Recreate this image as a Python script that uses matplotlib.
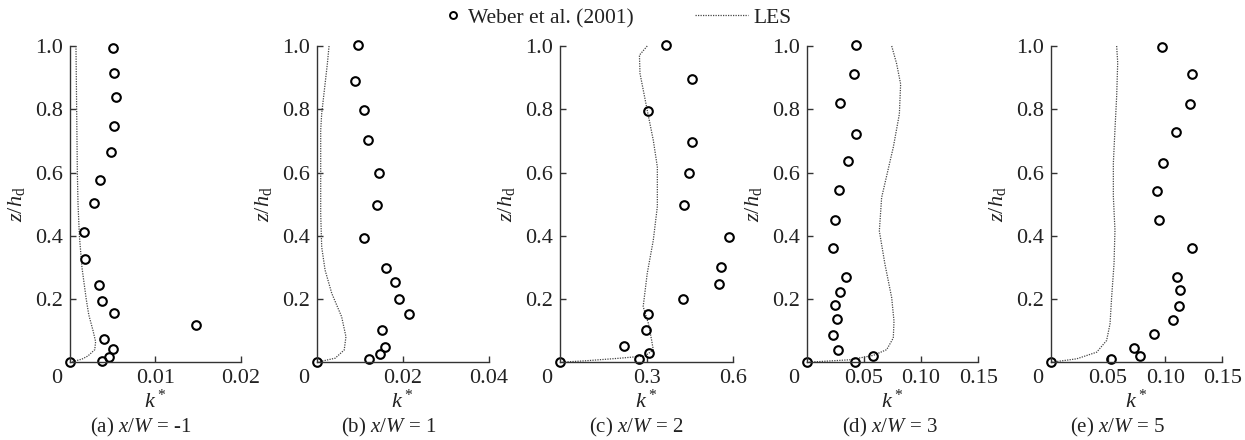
import matplotlib
matplotlib.use("Agg")
import matplotlib.pyplot as plt
from matplotlib.lines import Line2D

plt.rcParams['font.family'] = ['Liberation Serif', 'DejaVu Serif']
plt.rcParams['mathtext.fontset'] = 'custom'
plt.rcParams['mathtext.rm'] = 'Liberation Serif'
plt.rcParams['mathtext.it'] = 'Liberation Serif:italic'

TEXT_COLOR = '#222222'
LINE_COLOR = '#444444'

# (a) x/W = -1
exp_k_a = [0.0050, 0.0052, 0.0054, 0.0051, 0.0048, 0.0035, 0.0028, 0.0016, 0.0018,
           0.0034, 0.0038, 0.0052, 0.0148, 0.0040, 0.0050, 0.0046, 0.0037, 0.0]
exp_z_a = [0.995, 0.916, 0.838, 0.747, 0.664, 0.575, 0.504, 0.413, 0.327,
           0.245, 0.195, 0.155, 0.117, 0.075, 0.042, 0.017, 0.004, 0.0]
les_k_a = [0.0007, 0.00074, 0.00078, 0.00082, 0.00086, 0.00094, 0.0011, 0.0014,
           0.0019, 0.0022, 0.0027, 0.0030, 0.0029, 0.0021, 0.0014, 0.0]
les_z_a = [1.0, 0.9, 0.8, 0.7, 0.6, 0.5, 0.4, 0.3, 0.2, 0.15, 0.1, 0.065, 0.04, 0.02, 0.01, 0.0]

# (b) x/W = 1
exp_k_b = [0.0097, 0.0089, 0.0111, 0.0119, 0.0144, 0.0140, 0.0109, 0.0162,
           0.0182, 0.0191, 0.0214, 0.0151, 0.0159, 0.0147, 0.0122, 0.0]
exp_z_b = [1.004, 0.888, 0.797, 0.702, 0.600, 0.497, 0.394, 0.299,
           0.254, 0.201, 0.153, 0.102, 0.049, 0.025, 0.011, 0.0]
les_k_b = [0.00287, 0.00248, 0.00116, 0.00093, 0.00093, 0.00116, 0.00194, 0.0035,
           0.0058, 0.0068, 0.0064, 0.0043, 0.0]
les_z_b = [1.0, 0.944, 0.786, 0.734, 0.47, 0.365, 0.292, 0.218, 0.144, 0.081, 0.039, 0.013, 0.0]

# (c) x/W = 2
exp_k_c = [0.366, 0.456, 0.305, 0.458, 0.448, 0.428, 0.585, 0.556, 0.549,
           0.427, 0.306, 0.297, 0.222, 0.307, 0.275, 0.0]
exp_z_c = [1.004, 0.896, 0.794, 0.696, 0.600, 0.497, 0.396, 0.301, 0.249,
           0.201, 0.152, 0.101, 0.052, 0.029, 0.012, 0.0]
les_k_c = [0.302, 0.275, 0.277, 0.302, 0.323, 0.337, 0.337, 0.323, 0.302, 0.288,
           0.306, 0.317, 0.323, 0.294, 0.208, 0.092, 0.0]
les_z_c = [1.0, 0.971, 0.913, 0.797, 0.702, 0.618, 0.492, 0.386, 0.281, 0.176,
           0.123, 0.071, 0.039, 0.02, 0.013, 0.005, 0.0]

# (d) x/W = 3
exp_k_d = [0.0431, 0.0417, 0.0291, 0.0431, 0.0358, 0.0285, 0.0250, 0.0233, 0.0344,
           0.0291, 0.0250, 0.0268, 0.0233, 0.0277, 0.0577, 0.0422, 0.0]
exp_z_d = [1.004, 0.912, 0.819, 0.722, 0.635, 0.544, 0.450, 0.360, 0.271,
           0.222, 0.182, 0.137, 0.086, 0.040, 0.020, 0.001, 0.0]
les_k_d = [0.0743, 0.0786, 0.0821, 0.0810, 0.0757, 0.0655, 0.0635, 0.0684, 0.0743,
           0.0763, 0.0757, 0.0699, 0.0583, 0.0379, 0.0]
les_z_d = [1.0, 0.944, 0.88, 0.785, 0.68, 0.521, 0.415, 0.31, 0.204, 0.13, 0.077,
           0.04, 0.022, 0.008, 0.0]

# (e) x/W = 5
exp_k_e = [0.0972, 0.1232, 0.1220, 0.1091, 0.0983, 0.0928, 0.0948, 0.1232, 0.1100,
           0.1129, 0.1118, 0.1065, 0.0902, 0.0730, 0.0779, 0.0525, 0.0]
exp_z_e = [0.998, 0.910, 0.816, 0.727, 0.631, 0.542, 0.451, 0.360, 0.269,
           0.228, 0.179, 0.135, 0.088, 0.044, 0.021, 0.011, 0.0]
les_k_e = [0.0575, 0.0584, 0.0575, 0.0560, 0.0546, 0.0546, 0.0560, 0.0552, 0.0531,
           0.0517, 0.0487, 0.0400, 0.0225, 0.0]
les_z_e = [1.0, 0.947, 0.841, 0.735, 0.63, 0.524, 0.418, 0.312, 0.206, 0.122,
           0.069, 0.032, 0.011, 0.0]

captions = ['(a) $x/W$ = -1', '(b) $x/W$ = 1', '(c) $x/W$ = 2', '(d) $x/W$ = 3', '(e) $x/W$ = 5']
x_limits = [0.02, 0.04, 0.6, 0.15, 0.15]
x_ticks = [[0.01, 0.02], [0.02, 0.04], [0.3, 0.6], [0.05, 0.10, 0.15], [0.05, 0.10, 0.15]]
x_tick_labels = [['0.01', '0.02'], ['0.02', '0.04'], ['0.3', '0.6'],
                 ['0.05', '0.10', '0.15'], ['0.05', '0.10', '0.15']]
y_ticks = [0.2, 0.4, 0.6, 0.8, 1.0]

panels = [
    (exp_k_a, exp_z_a, les_k_a, les_z_a),
    (exp_k_b, exp_z_b, les_k_b, les_z_b),
    (exp_k_c, exp_z_c, les_k_c, les_z_c),
    (exp_k_d, exp_z_d, les_k_d, les_z_d),
    (exp_k_e, exp_z_e, les_k_e, les_z_e),
]

W, H = 1245, 440
axes_left = [70, 316.7, 560, 806.7, 1051]
axes_right = [240.7, 488.7, 733.3, 978.3, 1222.3]
axes_top, axes_bottom = 46, 362.3
caption_x = [141, 389, 636, 890, 1117]

fig = plt.figure(figsize=(W / 100, H / 100), dpi=100)

for i, (ek, ez, lk, lz) in enumerate(panels):
    ax = fig.add_axes([axes_left[i] / W, 1 - axes_bottom / H,
                       (axes_right[i] - axes_left[i]) / W, (axes_bottom - axes_top) / H])
    ax.plot(lk, lz, color=LINE_COLOR, linestyle=(0, (1, 1)), linewidth=0.9, clip_on=False)
    ax.plot(ek, ez, linestyle='none', marker='o', markersize=6.2, markerfacecolor='none',
            markeredgecolor='black', markeredgewidth=1.5, clip_on=False)
    ax.set_xlim(0, x_limits[i])
    ax.set_ylim(0, 1.0)
    ax.set_xticks(x_ticks[i])
    ax.set_xticklabels(x_tick_labels[i])
    ax.set_yticks(y_ticks)
    ax.set_yticklabels(['0.2', '0.4', '0.6', '0.8', '1.0'])
    for side in ['top', 'right']:
        ax.spines[side].set_visible(False)
    for side in ['left', 'bottom']:
        ax.spines[side].set_color('#333333')
        ax.spines[side].set_linewidth(1.0)
    ax.tick_params(direction='in', length=4, width=1.0, color='#333333',
                   labelsize=16, labelcolor=TEXT_COLOR, pad=5)
    ax.annotate('0', xy=(0, 0), xycoords='axes fraction', xytext=(-9.5, -5),
                textcoords='offset points', ha='center', va='top', fontsize=16, color=TEXT_COLOR)
    ax.set_xlabel('$k^*$', fontsize=16, color=TEXT_COLOR, labelpad=1)
    ax.set_ylabel(r'$z/h_{\rm d}$', fontsize=16, color=TEXT_COLOR, labelpad=6)
    fig.text(caption_x[i] / W, 1 - 427 / H, captions[i], ha='center', va='center',
             fontsize=15, color=TEXT_COLOR)

exp_handle = Line2D([], [], linestyle='none', marker='o', markersize=5, markerfacecolor='none',
                    markeredgecolor='black', markeredgewidth=1.4)
les_handle = Line2D([], [], color=LINE_COLOR, linestyle=(0, (1, 1)), linewidth=0.9)
fig.legend([exp_handle], ['Weber et al. (2001)'], loc='center left', bbox_to_anchor=(444.5 / W, 1 - 18 / H),
           frameon=False, fontsize=15.5, handlelength=0.8, handletextpad=0.3,
           borderpad=0, borderaxespad=0, labelcolor=TEXT_COLOR)
fig.legend([les_handle], ['LES'], loc='center left', bbox_to_anchor=(695 / W, 1 - 18 / H),
           frameon=False, fontsize=15.5, handlelength=2.45, handletextpad=0.25,
           borderpad=0, borderaxespad=0, labelcolor=TEXT_COLOR)

fig.savefig('out.png', dpi=100)
